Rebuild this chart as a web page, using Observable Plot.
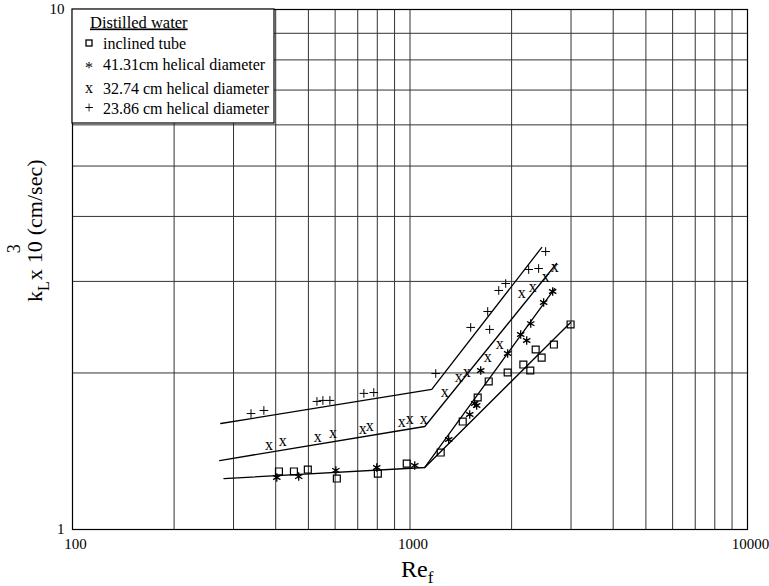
<!DOCTYPE html>
<html>
<head>
<meta charset="utf-8">
<script src="https://cdn.jsdelivr.net/npm/d3@7"></script>
<script src="https://cdn.jsdelivr.net/npm/@observablehq/plot@0.6"></script>
<style>
  html, body { margin: 0; padding: 0; background: white; }
  #chart svg { display: block; }
</style>
</head>
<body>
<div id="chart"></div>
<script>
// ---- Data ----
const xGridValues = [100,200,300,400,500,600,700,800,900,1000,2000,3000,4000,5000,6000,7000,8000,9000,10000];
const yGridValues = [1,2,3,4,5,6,7,8,9,10];
const xTickLabels = [100, 1000, 10000];
const yTickLabels = [1, 10];

// + 23.86 cm helical diameter
const plusRe = [338, 369, 530, 552, 579, 730, 781, 1192, 1513, 1722, 1699, 1832, 1921, 2247, 2405, 2523];
const plusK  = [1.671, 1.694, 1.763, 1.771, 1.771, 1.827, 1.834, 1.995, 2.447, 2.425, 2.626, 2.882, 2.972, 3.162, 3.176, 3.424];

// x 32.74 cm helical diameter
const xRe = [382, 420, 533, 591, 725, 760, 945, 998, 1098, 1267, 1394, 1472, 1699, 1845, 2142, 2309, 2523, 2683];
const xK  = [1.451, 1.477, 1.503, 1.530, 1.557, 1.578, 1.606, 1.628, 1.628, 1.834, 1.960, 2.004, 2.141, 2.268, 2.843, 2.920, 3.052, 3.190];

// * 41.31 cm helical diameter
const astRe = [403, 468, 603, 797, 1033, 1302, 1503, 1555, 1576, 1620, 1947, 2128, 2217, 2279, 2489, 2647];
const astK  = [1.259, 1.264, 1.299, 1.316, 1.328, 1.490, 1.664, 1.747, 1.732, 2.022, 2.180, 2.371, 2.309, 2.489, 2.733, 2.869];

// square: inclined tube
const sqRe = [409, 453, 498, 607, 803, 978, 1233, 1433, 1587, 1711, 1947, 2167, 2272, 2357, 2455, 2669, 2991];
const sqK  = [1.293, 1.293, 1.304, 1.253, 1.281, 1.339, 1.406, 1.613, 1.794, 1.926, 2.004, 2.076, 2.022, 2.219, 2.141, 2.268, 2.479];

// fitted lines
const fitPlusRe = [275, 1160, 2455];
const fitPlusK  = [1.599, 1.859, 3.485];
const fitXRe = [273, 1106, 2719];
const fitXK  = [1.357, 1.578, 3.247];
const fitAstRe = [281, 1106, 2683];
const fitAstK  = [1.253, 1.316, 2.907];
const fitSqRe = [1106, 2991];
const fitSqK  = [1.316, 2.501];

const legendTitle = "Distilled water";
const legendItems = ["inclined tube", "41.31cm helical diameter", "32.74 cm helical diameter", "23.86 cm helical diameter"];
const legendGlyphs = ["", "*", "x", "+"];

// ---- build tables ----
const zip = (a, b) => a.map((v, i) => ({re: v, k: b[i]}));
const plusData = zip(plusRe, plusK);
const xData = zip(xRe, xK);
const astData = zip(astRe, astK);
const sqData = zip(sqRe, sqK);
const fits = [zip(fitPlusRe, fitPlusK), zip(fitXRe, fitXK), zip(fitAstRe, fitAstK), zip(fitSqRe, fitSqK)];

const serif = "'Liberation Serif', 'DejaVu Serif', serif";

const chart = Plot.plot({
  width: 769,
  height: 586,
  marginLeft: 72,
  marginRight: 22,
  marginTop: 9,
  marginBottom: 57,
  style: {fontFamily: serif, fontSize: "14px", background: "white", color: "black"},
  x: {type: "log", domain: [100, 10000], label: null},
  y: {type: "log", domain: [1, 10], label: null},
  marks: [
    Plot.ruleX(xGridValues, {stroke: "#333", strokeWidth: 1}),
    Plot.ruleY(yGridValues, {stroke: "#333", strokeWidth: 1}),
    ...fits.map(f => Plot.line(f, {x: "re", y: "k", stroke: "black", strokeWidth: 1.3})),
    Plot.dot(sqData, {x: "re", y: "k", symbol: "square", r: 3.9, stroke: "black", strokeWidth: 1.2, fill: "none"}),
    Plot.dot(astData, {x: "re", y: "k", symbol: "asterisk", r: 4, stroke: "black", strokeWidth: 1.3}),
    Plot.dot(plusData, {x: "re", y: "k", symbol: "plus", r: 2.9, stroke: "black", strokeWidth: 1}),
    Plot.text(xData, {x: "re", y: "k", text: () => "x", fontSize: 16, fill: "black", fontFamily: serif, dy: -1}),
    Plot.axisX(xTickLabels, {tickSize: 0, tickPadding: 9, tickFormat: d3.format("d"), fontSize: 15, fontFamily: serif, dx: 3}),
    Plot.axisY(yTickLabels, {tickSize: 0, tickPadding: 8, tickFormat: d3.format("d"), fontSize: 15, fontFamily: serif}),
    Plot.frame({stroke: "black", strokeWidth: 1.2})
  ]
});

document.getElementById("chart").appendChild(chart);

// ---- legend box and axis titles ----
const svg = d3.select(chart);
const g = svg.append("g").attr("font-family", serif).attr("fill", "black").attr("text-anchor", "start");
g.append("rect").attr("x", 72).attr("y", 9).attr("width", 202).attr("height", 114)
  .attr("fill", "white").attr("stroke", "black").attr("stroke-width", 1.2);
g.append("text").attr("x", 90).attr("y", 27.5).attr("font-size", 16.5)
  .attr("text-decoration", "underline").text(legendTitle);
const rowY = [43, 64, 88, 108];
legendItems.forEach((t, i) => {
  if (i === 0) {
    g.append("rect").attr("x", 86).attr("y", rowY[i] - 3).attr("width", 6).attr("height", 6)
      .attr("fill", "none").attr("stroke", "black").attr("stroke-width", 1.3);
  } else {
    g.append("text").attr("x", 89).attr("y", rowY[i] + (i === 1 ? 9 : 5)).attr("font-size", 16)
      .attr("text-anchor", "middle").text(legendGlyphs[i]);
  }
  g.append("text").attr("x", 103).attr("y", rowY[i] + 5.5).attr("font-size", 16).text(t);
});

// y axis title: k_L x 10^3 (cm/sec)
const yt = svg.append("text").attr("transform", "translate(42,302) rotate(-90)")
  .attr("text-anchor", "start")
  .attr("font-family", serif).attr("font-size", 22).attr("fill", "black");
yt.append("tspan").text("k");
yt.append("tspan").attr("dy", 7).attr("font-size", 16).text("L");
yt.append("tspan").attr("dy", -7).attr("dx", 1).text("x");
yt.append("tspan").attr("dx", 6).text("10");
yt.append("tspan").attr("dx", -12).attr("dy", -22).attr("font-size", 18).text("3");
yt.append("tspan").attr("dx", 9).attr("dy", 22).text("(cm/sec)");

// x axis title: Re_f
const xt = svg.append("text").attr("x", 401).attr("y", 577)
  .attr("text-anchor", "start")
  .attr("font-family", serif).attr("font-size", 24).attr("fill", "black");
xt.append("tspan").text("Re");
xt.append("tspan").attr("dy", 6).attr("font-size", 17).text("f");
</script>
</body>
</html>
